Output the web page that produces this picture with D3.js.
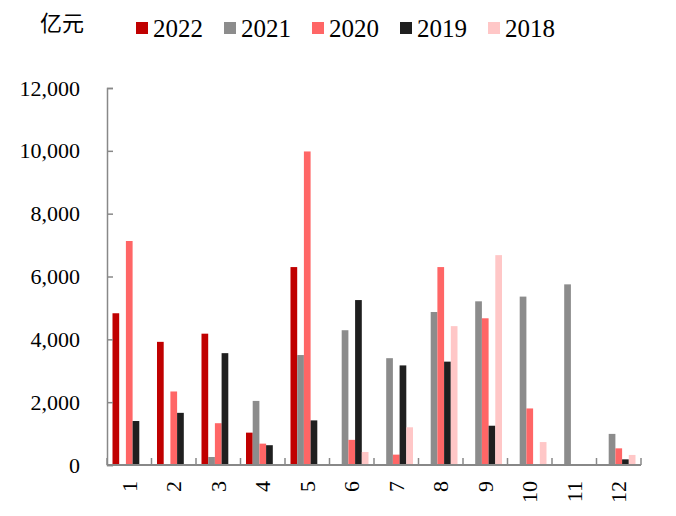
<!DOCTYPE html>
<html>
<head>
<meta charset="utf-8">
<script src="https://cdn.jsdelivr.net/npm/d3@7"></script>
<style>
  body { margin: 0; background: #fff; }
</style>
</head>
<body>
<div id="chart"></div>
<script>
// Data (亿元), by month
const months = ["1", "2", "3", "4", "5", "6", "7", "8", "9", "10", "11", "12"];
const years = ["2022", "2021", "2020", "2019", "2018"];
const yearColors = ["#c00000", "#8c8c8c", "#ff6666", "#1f1f1f", "#ffc7c7"];
const yTicks = [0, 2000, 4000, 6000, 8000, 10000, 12000];

const v2022 = [4830, 3920, 4180, 1030, 6300, null, null, null, null, null, null, null];
const v2021 = [null, null, 255, 2040, 3500, 4290, 3400, 4870, 5210, 5360, 5750, 990];
const v2020 = [7130, 2340, 1330, 680, 9980, 800, 330, 6300, 4670, 1800, null, 530];
const v2019 = [1400, 1660, 3560, 630, 1420, 5250, 3170, 3290, 1250, null, null, 180];
const v2018 = [null, null, null, null, null, 414, 1200, 4420, 6680, 730, null, 320];
const seriesValues = [v2022, v2021, v2020, v2019, v2018];

const W = 676, H = 516;
const plotLeft = 107, plotRight = 641, plotTop = 88, plotBottom = 465;
const serif = "'Liberation Serif', 'Times New Roman', 'DejaVu Serif', serif";

const svg = d3.select("#chart").append("svg")
    .attr("width", W)
    .attr("height", H);

const x0 = d3.scaleBand().domain(months).range([plotLeft, plotRight]).padding(0);
const x1 = d3.scaleBand().domain(years).range([0, x0.bandwidth()])
    .paddingInner(0).paddingOuter(0.82);
const y = d3.scaleLinear().domain([0, 12000]).range([plotBottom, plotTop]);
const color = d3.scaleOrdinal().domain(years).range(yearColors);

// bars
const rows = [];
years.forEach((yr, i) => {
    seriesValues[i].forEach((v, j) => {
        if (v != null) rows.push({ year: yr, month: months[j], value: v });
    });
});

svg.append("g").selectAll("rect")
    .data(rows)
    .enter()
    .append("rect")
    .attr("x", d => x0(d.month) + x1(d.year))
    .attr("y", d => y(d.value))
    .attr("width", x1.bandwidth())
    .attr("height", d => plotBottom - y(d.value))
    .attr("fill", d => color(d.year));

// y axis, ticks point inward
const yAxis = d3.axisLeft(y)
    .tickValues(yTicks)
    .tickFormat(d3.format(","))
    .tickSizeInner(-6)
    .tickSizeOuter(-6)
    .tickPadding(27);

const gy = svg.append("g")
    .attr("transform", `translate(${plotLeft},0)`)
    .call(yAxis);
gy.attr("font-family", null).attr("font-size", null);
gy.selectAll("path, line").attr("stroke", "#888").attr("stroke-width", 1.5);
gy.selectAll("text")
    .style("font-family", serif)
    .style("font-size", "22px")
    .attr("fill", "#000");

// x axis line with ticks on the band boundaries
const gx = svg.append("g");
gx.append("line")
    .attr("x1", plotLeft).attr("x2", plotRight)
    .attr("y1", plotBottom).attr("y2", plotBottom)
    .attr("stroke", "#888").attr("stroke-width", 1.8);

const bounds = months.map(m => x0(m)).concat([plotRight]);
gx.selectAll(".xtick")
    .data(bounds)
    .enter()
    .append("line")
    .attr("x1", d => d).attr("x2", d => d)
    .attr("y1", plotBottom).attr("y2", plotBottom - 7)
    .attr("stroke", "#888").attr("stroke-width", 1.5);

gx.selectAll(".xlabel")
    .data(months)
    .enter()
    .append("text")
    .attr("transform", d => `translate(${x0(d) + x0.bandwidth() / 2},481) rotate(-90)`)
    .attr("text-anchor", "end")
    .attr("dy", "0.35em")
    .style("font-family", serif)
    .style("font-size", "22px")
    .text(d => d);

// unit label
svg.append("text")
    .attr("x", 40)
    .attr("y", 31)
    .style("font-family", "'Noto Sans CJK SC', sans-serif")
    .style("font-size", "22px")
    .text("亿元");

// legend
const legend = svg.append("g").selectAll("g")
    .data(years)
    .enter()
    .append("g")
    .attr("transform", (d, i) => `translate(${136 + i * 88},22)`);

legend.append("rect")
    .attr("width", 12)
    .attr("height", 12)
    .attr("fill", d => color(d));

legend.append("text")
    .attr("x", 17)
    .attr("y", 15)
    .style("font-family", serif)
    .style("font-size", "25px")
    .text(d => d);
</script>
</body>
</html>
